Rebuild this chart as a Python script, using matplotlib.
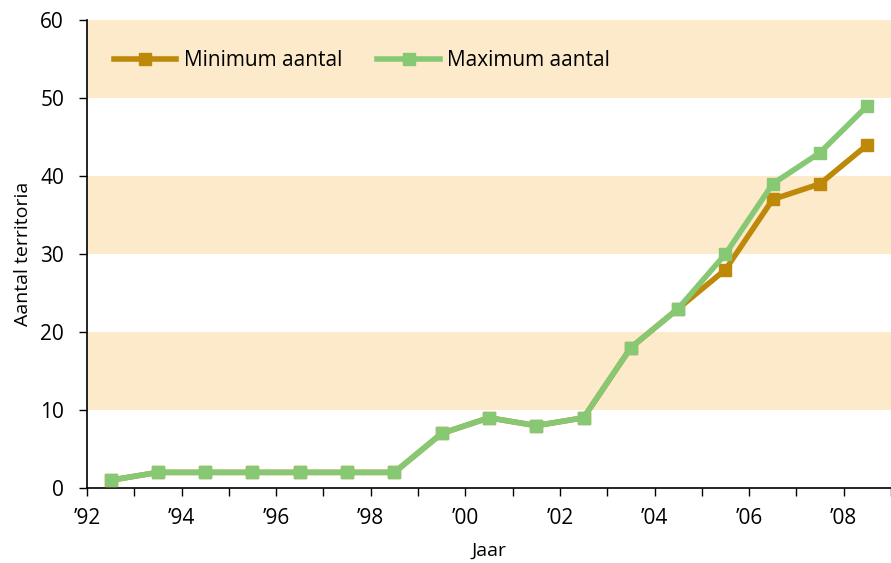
import matplotlib.pyplot as plt
import numpy as np

# data (values at mid-year)
jaren = np.arange(1992, 2009) + 0.5
minimum = [1, 2, 2, 2, 2, 2, 2, 7, 9, 8, 9, 18, 23, 28, 37, 39, 44]
maximum = [1, 2, 2, 2, 2, 2, 2, 7, 9, 8, 9, 18, 23, 30, 39, 43, 49]
tick_jaren = list(range(1992, 2010))
tick_labels = ["\u2019%02d" % (j % 100) if j % 2 == 0 and j < 2009 else "" for j in tick_jaren]

plt.rcParams['font.family'] = ['Open Sans', 'DejaVu Sans']

fig = plt.figure(figsize=(8.91, 5.63), dpi=100)
ax = fig.add_axes([0.0976, 0.1332, 0.9024, 0.8313])

# shaded bands
for lo in (10, 30, 50):
    ax.axhspan(lo, lo + 10, color='#fdeacb', lw=0, zorder=0)

ax.plot(jaren, minimum, color='#be8808', lw=4, marker='s', ms=9,
        label='Minimum aantal', zorder=3)
ax.plot(jaren, maximum, color='#86c873', lw=4, marker='s', ms=9,
        label='Maximum aantal', zorder=4)

ax.set_xlim(1992, 2009)
ax.set_ylim(0, 60)
ax.set_xticks(tick_jaren)
ax.set_xticklabels(tick_labels, fontsize=15)
ax.set_yticks(range(0, 61, 10))
ax.set_yticklabels([str(v) for v in range(0, 61, 10)], fontsize=15)
ax.tick_params(direction='out', length=5.5, width=1, color='black')
ax.tick_params(axis='x', pad=9)
ax.tick_params(axis='y', pad=11)

for s in ('top', 'right'):
    ax.spines[s].set_visible(False)
ax.spines['left'].set_linewidth(1.2)
ax.spines['bottom'].set_linewidth(1.2)

ax.set_xlabel('Jaar', fontsize=14, labelpad=9)
ax.set_ylabel('Aantal territoria', fontsize=14, labelpad=6)

ax.legend(loc='upper left', bbox_to_anchor=(0.01, 0.975), ncol=2, frameon=False,
          fontsize=15, handlelength=3.0, columnspacing=1.7, handletextpad=0.35)

fig.savefig('out.png', dpi=100)
